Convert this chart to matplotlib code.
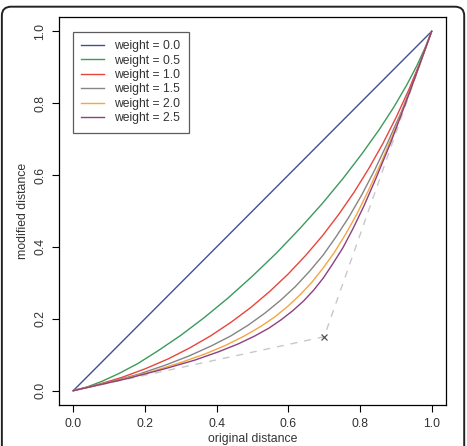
import matplotlib.pyplot as plt
from matplotlib.patches import FancyBboxPatch

plt.rcParams['font.family'] = ['Liberation Sans', 'DejaVu Sans']

# Curves: (original distance, modified distance)
x_w00 = [0.0, 1.0]
y_w00 = [0.0, 1.0]

x_w05 = [0.0, 0.038, 0.080, 0.128, 0.181, 0.238, 0.300, 0.365, 0.432, 0.499, 0.567,
         0.632, 0.695, 0.753, 0.806, 0.854, 0.895, 0.930, 0.959, 0.982, 1.0]
y_w05 = [0.0, 0.010, 0.026, 0.048, 0.076, 0.112, 0.154, 0.203, 0.258, 0.318, 0.383,
         0.451, 0.521, 0.591, 0.660, 0.727, 0.790, 0.850, 0.905, 0.955, 1.0]

x_w10 = [0.0, 0.069, 0.136, 0.201, 0.264, 0.325, 0.384, 0.441, 0.496, 0.549, 0.600,
         0.649, 0.696, 0.741, 0.784, 0.825, 0.864, 0.901, 0.936, 0.969, 1.0]
y_w10 = [0.0, 0.017, 0.037, 0.061, 0.088, 0.119, 0.153, 0.191, 0.232, 0.277, 0.325,
         0.377, 0.432, 0.491, 0.553, 0.619, 0.688, 0.761, 0.837, 0.917, 1.0]

x_w15 = [0.0, 0.098, 0.183, 0.257, 0.324, 0.384, 0.439, 0.489, 0.535, 0.579, 0.620,
         0.659, 0.697, 0.733, 0.769, 0.805, 0.841, 0.878, 0.917, 0.957, 1.0]
y_w15 = [0.0, 0.023, 0.046, 0.071, 0.097, 0.124, 0.152, 0.183, 0.216, 0.252, 0.290,
         0.332, 0.377, 0.428, 0.483, 0.545, 0.614, 0.692, 0.780, 0.882, 1.0]

x_w20 = [0.0, 0.124, 0.222, 0.302, 0.370, 0.427, 0.477, 0.522, 0.562, 0.599, 0.633,
         0.666, 0.697, 0.728, 0.759, 0.791, 0.824, 0.860, 0.900, 0.946, 1.0]
y_w20 = [0.0, 0.028, 0.054, 0.079, 0.103, 0.127, 0.152, 0.178, 0.205, 0.235, 0.267,
         0.302, 0.341, 0.384, 0.434, 0.491, 0.558, 0.637, 0.732, 0.850, 1.0]

x_w25 = [0.0, 0.148, 0.256, 0.339, 0.405, 0.460, 0.506, 0.546, 0.581, 0.613, 0.643,
         0.671, 0.698, 0.724, 0.752, 0.780, 0.811, 0.845, 0.886, 0.935, 1.0]
y_w25 = [0.0, 0.033, 0.061, 0.085, 0.108, 0.130, 0.152, 0.174, 0.198, 0.223, 0.250,
         0.280, 0.314, 0.353, 0.397, 0.450, 0.514, 0.592, 0.691, 0.821, 1.0]

# control polygon and control point
ctrl_x = [0.0, 0.7, 1.0]
ctrl_y = [0.0, 0.15, 1.0]

labels = ['weight = 0.0', 'weight = 0.5', 'weight = 1.0',
          'weight = 1.5', 'weight = 2.0', 'weight = 2.5']
colors = ['#44508e', '#3c9a5c', '#e8453c', '#858585', '#f5a541', '#8c3f82']

fig = plt.figure(figsize=(4.67, 4.46), dpi=100)
ax = fig.add_axes([0.1263, 0.0919, 0.8287, 0.870])

ax.plot(ctrl_x, ctrl_y, color='#c8c8c8', lw=1.0, ls=(0, (5, 5)))
ax.plot([ctrl_x[1]], [ctrl_y[1]], marker='x', color='#555555', ms=5, mew=0.9, ls='none')

xs = [x_w00, x_w05, x_w10, x_w15, x_w20, x_w25]
ys = [y_w00, y_w05, y_w10, y_w15, y_w20, y_w25]
for x, y, c, lab in zip(xs, ys, colors, labels):
    ax.plot(x, y, color=c, lw=1.0, label=lab)

ax.set_xlim(-0.04, 1.04)
ax.set_ylim(-0.04, 1.04)
ticks = [0.0, 0.2, 0.4, 0.6, 0.8, 1.0]
ax.set_xticks(ticks)
ax.set_yticks(ticks)
ax.set_xticklabels(['%.1f' % t for t in ticks])
ax.set_yticklabels(['%.1f' % t for t in ticks], rotation=90, va='center')
ax.tick_params(direction='out', length=5, width=0.8, labelsize=8.8,
               labelcolor='#333333', pad=4)
for s in ax.spines.values():
    s.set_linewidth(0.9)

ax.set_xlabel('original distance', fontsize=8.8, color='#333333')
ax.xaxis.set_label_coords(0.5, -0.072)
ax.set_ylabel('modified distance', fontsize=8.8, color='#333333')
ax.yaxis.set_label_coords(-0.078, 0.5)

leg = ax.legend(loc='upper left', bbox_to_anchor=(0.036, 0.962), fontsize=8.7,
                frameon=True, fancybox=False, edgecolor='#333333',
                handlelength=1.85, handletextpad=0.85, labelspacing=0.2,
                borderpad=0.7, borderaxespad=0)
leg.get_frame().set_linewidth(0.9)
for t in leg.get_texts():
    t.set_color('#333333')

# rounded outer frame of the figure
frame = FancyBboxPatch((0.004, -0.05), 0.99, 1.035, boxstyle='round,pad=0,rounding_size=0.02',
                       transform=fig.transFigure, fill=False, ec='#222222', lw=1.4)
fig.patches.append(frame)

fig.savefig('out.png', dpi=100)
